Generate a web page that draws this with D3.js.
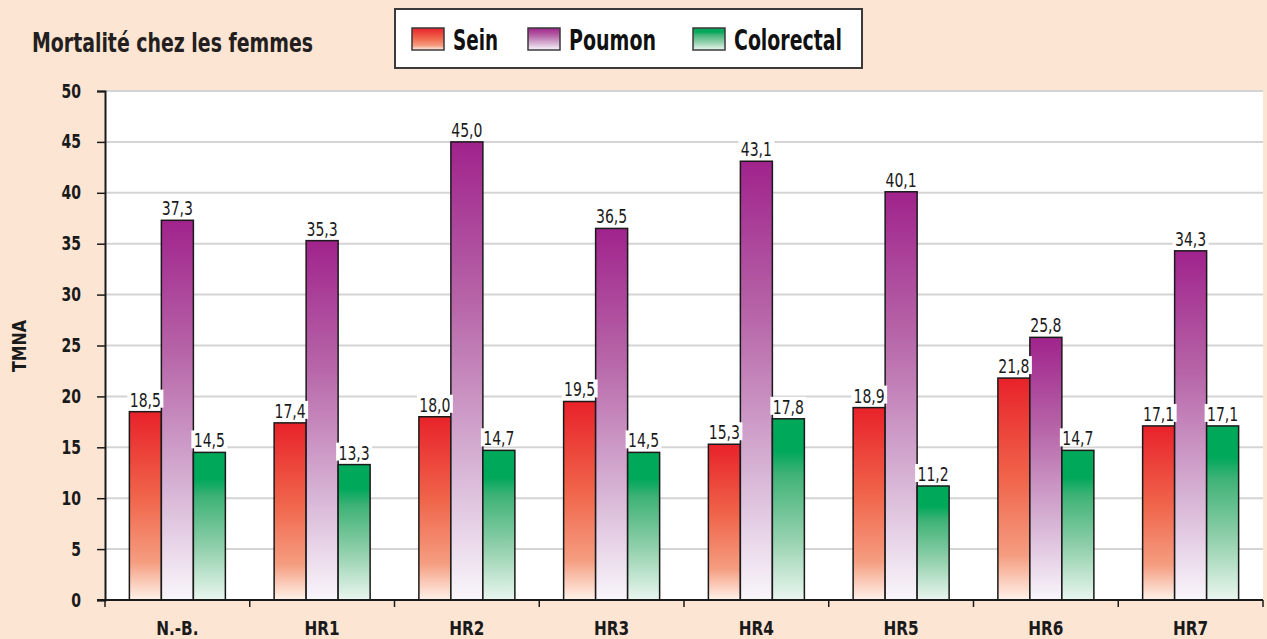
<!DOCTYPE html>
<html>
<head>
<meta charset="utf-8">
<script src="https://cdn.jsdelivr.net/npm/d3@7"></script>
<style>
  html, body { margin: 0; padding: 0; background: #fde5d4; }
  svg { display: block; }
  text { font-family: "DejaVu Sans Condensed", "DejaVu Sans", sans-serif; }
</style>
</head>
<body>
<svg id="chart" width="1267" height="639"></svg>
<script>
// Taux de mortalité normalisés selon l'âge, femmes, par région
const categories = ["N.-B.", "HR1", "HR2", "HR3", "HR4", "HR5", "HR6", "HR7"];
const seriesNames = ["Sein", "Poumon", "Colorectal"];
const sein = [18.5, 17.4, 18.0, 19.5, 15.3, 18.9, 21.8, 17.1];
const poumon = [37.3, 35.3, 45.0, 36.5, 43.1, 40.1, 25.8, 34.3];
const colorectal = [14.5, 13.3, 14.7, 14.5, 17.8, 11.2, 14.7, 17.1];
const yTicks = [0, 5, 10, 15, 20, 25, 30, 35, 40, 45, 50];

const seriesValues = [sein, poumon, colorectal];

const svg = d3.select("#chart");
const W = 1267, H = 639;
const margin = { left: 105, right: 4, top: 91, bottom: 39 };
const plotW = W - margin.left - margin.right;
const plotH = H - margin.top - margin.bottom;

// narrow the glyphs horizontally (condensed look)
function squeeze(sel, k) {
  sel.each(function () {
    const len = this.getComputedTextLength();
    d3.select(this).attr("textLength", len * k).attr("lengthAdjust", "spacingAndGlyphs");
  });
}

// gradients: saturated at the top of each bar, fading to pale at the base
const defs = svg.append("defs");
const gradStops = [
  [["0%", "#e8222a"], ["45%", "#f0644a"], ["80%", "#f59d80"], ["100%", "#fff2ea"]],
  [["0%", "#a0238c"], ["35%", "#b765a8"], ["70%", "#d6b2d4"], ["100%", "#f9f6fb"]],
  [["0%", "#00a85a"], ["18%", "#00a85a"], ["30%", "#3eb276"], ["65%", "#92d0ac"], ["100%", "#eaf6ef"]]
];
gradStops.forEach((stops, i) => {
  const g = defs.append("linearGradient")
    .attr("id", "grad" + i)
    .attr("x1", 0).attr("y1", 0).attr("x2", 0).attr("y2", 1);
  stops.forEach(s => g.append("stop").attr("offset", s[0]).attr("stop-color", s[1]));
});

const x0 = d3.scaleBand().domain(categories).range([margin.left, margin.left + plotW]).paddingInner(0).paddingOuter(0);
const groupW = 96;
const x1 = d3.scaleBand().domain(d3.range(seriesNames.length)).range([0, groupW]).padding(0);
const y = d3.scaleLinear().domain([0, 50]).range([margin.top + plotH, margin.top]);

// plot background
svg.append("rect")
  .attr("x", margin.left).attr("y", y(50))
  .attr("width", plotW).attr("height", y(0) - y(50))
  .attr("fill", "#ffffff");

// horizontal gridlines
svg.append("g").selectAll("line")
  .data(yTicks.filter(d => d > 0))
  .join("line")
  .attr("x1", margin.left).attr("x2", margin.left + plotW)
  .attr("y1", d => y(d)).attr("y2", d => y(d))
  .attr("stroke", "#d4d4d4").attr("stroke-width", 2);

// bars
const groups = svg.append("g").selectAll("g")
  .data(categories)
  .join("g")
  .attr("transform", d => `translate(${x0(d) + (x0.bandwidth() - groupW) / 2},0)`);

groups.selectAll("rect")
  .data((c, ci) => seriesValues.map((vals, si) => ({ si, v: vals[ci] })))
  .join("rect")
  .attr("x", d => x1(d.si))
  .attr("width", x1.bandwidth())
  .attr("y", d => y(d.v))
  .attr("height", d => y(0) - y(d.v))
  .attr("fill", d => `url(#grad${d.si})`)
  .attr("stroke", "#1a1a1a").attr("stroke-width", 1.5);

// value labels with white backing
const labels = groups.selectAll("g.lab")
  .data((c, ci) => seriesValues.map((vals, si) => ({ si, v: vals[ci] })))
  .join("g").attr("class", "lab")
  .attr("transform", d => `translate(${x1(d.si) + x1.bandwidth() / 2},${y(d.v) - 5})`);
labels.append("rect")
  .attr("x", -18).attr("y", -17).attr("width", 36).attr("height", 18)
  .attr("fill", "#ffffff");
labels.append("text")
  .attr("text-anchor", "middle")
  .attr("font-size", 19.5)
  .attr("fill", "#1a1a1a")
  .text(d => d3.format(".1f")(d.v).replace(".", ","))
  .call(squeeze, 0.8);

// y axis
const yAxis = d3.axisLeft(y).tickValues(yTicks).tickSize(8).tickPadding(16);
const gy = svg.append("g").attr("transform", `translate(${margin.left},0)`).call(yAxis);
gy.select(".domain").attr("stroke", "#1a1a1a").attr("stroke-width", 2);
gy.selectAll(".tick line").attr("stroke", "#1a1a1a").attr("stroke-width", 1.5);
gy.selectAll(".tick text")
  .attr("font-size", 19).attr("font-weight", "bold").attr("fill", "#1a1a1a")
  .attr("font-family", "'DejaVu Sans Condensed', 'DejaVu Sans', sans-serif")
  .call(squeeze, 0.82);

// x axis: ticks at category boundaries
const gx = svg.append("g");
gx.append("line")
  .attr("x1", margin.left - 8).attr("x2", margin.left + plotW)
  .attr("y1", y(0)).attr("y2", y(0))
  .attr("stroke", "#1a1a1a").attr("stroke-width", 2);
gx.selectAll("line.tk")
  .data(categories.map(c => x0(c)).concat([margin.left + plotW]))
  .join("line").attr("class", "tk")
  .attr("x1", d => d).attr("x2", d => d)
  .attr("y1", y(0)).attr("y2", y(0) + 7)
  .attr("stroke", "#1a1a1a").attr("stroke-width", 1.5);
gx.selectAll("text")
  .data(categories)
  .join("text")
  .attr("x", d => x0(d) + x0.bandwidth() / 2)
  .attr("y", 635)
  .attr("text-anchor", "middle")
  .attr("font-size", 20).attr("font-weight", "bold").attr("fill", "#1a1a1a")
  .text(d => d)
  .call(squeeze, 0.85);

// y axis title
svg.append("text")
  .attr("transform", "translate(26,346) rotate(-90)")
  .attr("text-anchor", "middle")
  .attr("font-size", 20).attr("font-weight", "bold").attr("fill", "#1a1a1a")
  .attr("textLength", 52).attr("lengthAdjust", "spacingAndGlyphs")
  .text("TMNA");

// chart title
svg.append("text")
  .attr("x", 32).attr("y", 52)
  .attr("font-size", 27).attr("font-weight", "bold").attr("fill", "#231f20")
  .attr("textLength", 281).attr("lengthAdjust", "spacingAndGlyphs")
  .text("Mortalité chez les femmes");

// legend
const legend = svg.append("g");
legend.append("rect")
  .attr("x", 395).attr("y", 9).attr("width", 467).attr("height", 59)
  .attr("fill", "#ffffff").attr("stroke", "#3a3a3a").attr("stroke-width", 2);
const legendX = [412, 528, 693];
const legendTextW = [45, 87, 108];
seriesNames.forEach((name, i) => {
  legend.append("rect")
    .attr("x", legendX[i]).attr("y", 28).attr("width", 32).attr("height", 22)
    .attr("fill", `url(#grad${i})`).attr("stroke", "#3a3a3a").attr("stroke-width", 1.5);
  legend.append("text")
    .attr("x", legendX[i] + 41).attr("y", 50)
    .attr("font-size", 28).attr("font-weight", "bold").attr("fill", "#111")
    .attr("textLength", legendTextW[i]).attr("lengthAdjust", "spacingAndGlyphs")
    .text(name);
});
</script>
</body>
</html>
